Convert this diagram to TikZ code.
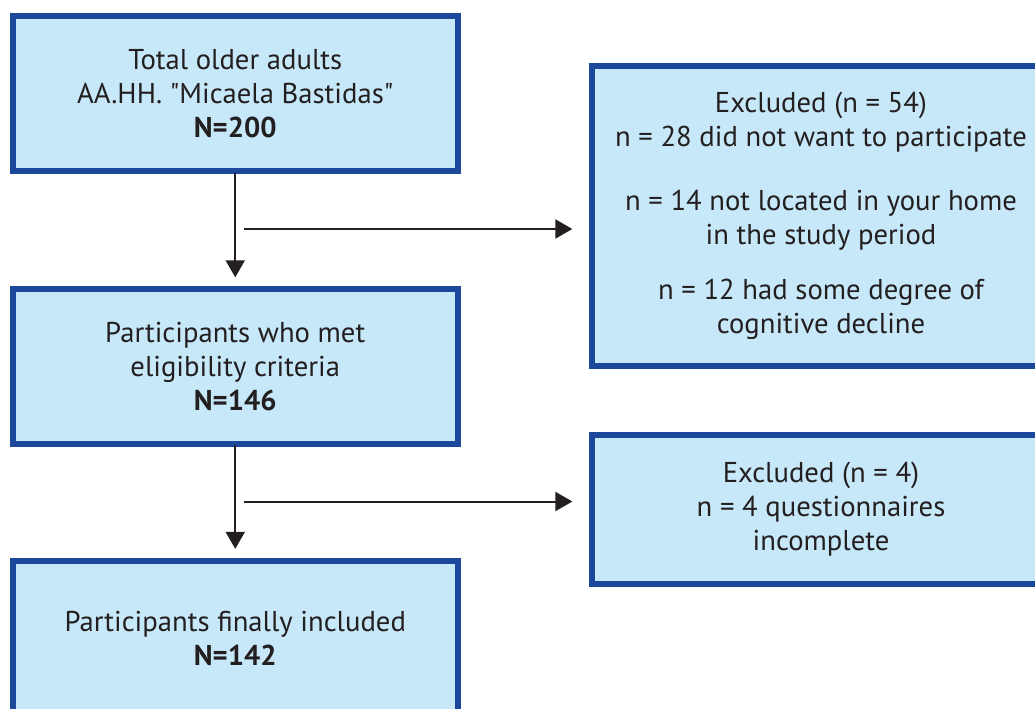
\documentclass[tikz,border=0pt]{standalone}
\usepackage{fontspec}
\setmainfont{PT Sans}[Ligatures=TeXReset]
\usepackage{xcolor}
\usepackage{tikz}
\usetikzlibrary{arrows.meta, calc}
\definecolor{flowblue}{RGB}{28, 72, 156}
\definecolor{flowfill}{RGB}{199, 232, 248}
\definecolor{flowink}{RGB}{35, 31, 32}

\begin{document}
\begin{tikzpicture}[x=0.75pt, y=-0.75pt,
  box/.style={draw=flowblue, fill=flowfill, line width=4.5pt, align=center,
    text=flowink, font=\fontsize{21.5}{25.5}\selectfont},
  arr/.style={draw=flowink, line width=1.5pt, -{Triangle[length=12.75pt, width=14.25pt]}}]
\useasboundingbox (0,0) rectangle (1035,709);
\clip (0,0) rectangle (1035,709);

% Left column
\node[box, minimum width=333.4pt, minimum height=116.25pt] (total) at (235.25,93.5)
  {Total older adults\\AA.HH. "Micaela Bastidas"\\\textbf{N=200}};
\node[box, minimum width=333.4pt, minimum height=115.9pt] (eligible) at (235.25,366.25)
  {Participants who met\\eligibility criteria\\\textbf{N=146}};
\node[box, minimum width=333.4pt, minimum height=116.25pt] (included) at (235.25,638)
  {Participants finally included\\\textbf{N=142}};

% Right column
\node[box, minimum width=343.5pt, minimum height=224.25pt] (excl1) at (821,216)
  {Excluded (n = 54)\\n = 28 did not want to participate\\[22pt]
   n = 14 not located in your home\\in the study period\\[16pt]
   n = 12 had some degree of\\cognitive decline};
\node[box, minimum width=343.5pt, minimum height=111.75pt] (excl2) at (821,509)
  {Excluded (n = 4)\\n = 4 questionnaires\\incomplete};

% Arrows
\coordinate (split1) at (244,229);
\coordinate (split2) at (244,501.5);
\draw[arr, shorten <=-1pt, shorten >=6.5pt] (total) -- (eligible);
\draw[arr, shorten <=-1pt, shorten >=6.5pt] (eligible) -- (included);
\draw[arr, shorten >=12.5pt] (split1) -- (split1 -| excl1.west);
\draw[arr, shorten >=12.5pt] (split2) -- (split2 -| excl2.west);
\end{tikzpicture}
\end{document}
